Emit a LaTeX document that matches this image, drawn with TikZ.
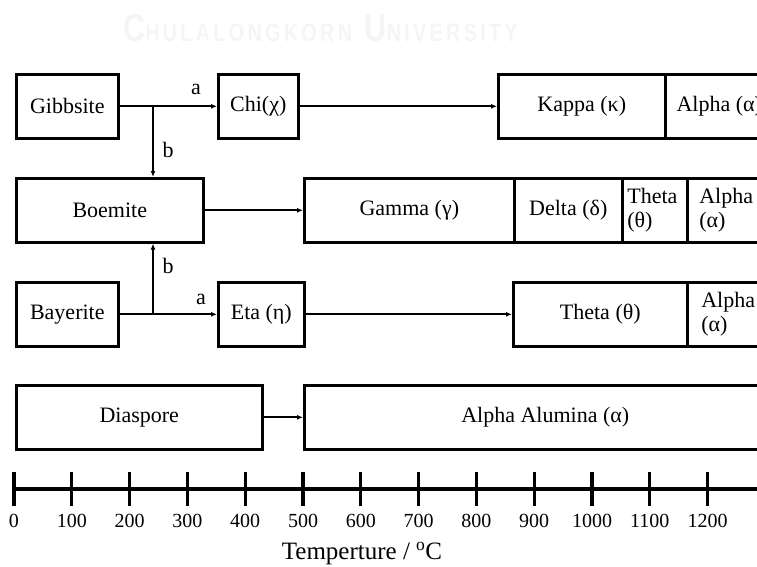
\documentclass[tikz,border=0pt]{standalone}
\usepackage{fontspec}
\setmainfont{Liberation Serif}
\newfontfamily\wmfont{Liberation Sans}
\usetikzlibrary{arrows.meta}
\begin{document}
\begin{tikzpicture}[x=1pt,y=-1pt,
  box/.style={draw=black, line width=2.6pt, minimum height=64pt, inner sep=0pt,
    anchor=north west, font=\fontsize{22}{24}\selectfont, text=black},
  lbox/.style={box, align=left},
  conn/.style={line width=1.8pt, -{Latex[length=6pt,width=5pt]}},
  lbl/.style={font=\fontsize{22}{24}\selectfont},
  tickln/.style={line width=3.2pt},
  num/.style={font=\fontsize{20}{22}\selectfont},
  wm/.style={text=black!4, font=\wmfont\bfseries, anchor=base west, inner sep=0pt}
]
\useasboundingbox (0,0) rectangle (757,567);
\clip (0,0) rectangle (757,567);

% faint watermark
\node[wm, xscale=0.9, yscale=1.15] (wmark) at (123,42) {{\fontsize{34}{34}\selectfont C}{\fontsize{22}{22}\selectfont H\,U\,L\,A\,L\,O\,N\,G\,K\,O\,R\,N}\hspace{14pt}{\fontsize{34}{34}\selectfont U}{\fontsize{22}{22}\selectfont N\,I\,V\,E\,R\,S\,I\,T\,Y}};

% row 1
\node[box, minimum width=102pt] (gib) at (15,73) {Gibbsite};
\node[box, minimum width=80pt] (chi) at (217,73) {Chi(χ)};
\node[box, minimum width=167pt] (kap) at (497,73) {Kappa (κ)};
\node[box, minimum width=108pt] (alp1) at (664,73) {Alpha (α)};

% row 2
\node[box, minimum width=187pt] (boe) at (15,177) {Boemite};
\node[box, minimum width=210pt] (gam) at (303,177) {Gamma (γ)};
\node[box, minimum width=108pt] (del) at (513,177) {Delta (δ)};
\node[lbox, minimum width=65pt, text width=55pt, inner xsep=5pt] (the2) at (621,177) {Theta\\(θ)};
\node[lbox, minimum width=114pt, text width=90pt, inner xsep=12pt] (alp2) at (686,177) {Alpha\\(α)};

% row 3
\node[box, minimum width=102pt] (bay) at (15,281) {Bayerite};
\node[box, minimum width=86pt] (eta) at (217,281) {Eta (η)};
\node[box, minimum width=174pt] (the3) at (512,281) {Theta (θ)};
\node[lbox, minimum width=114pt, text width=86pt, inner xsep=14pt] (alp3) at (686,281) {Alpha\\(α)};

% row 4
\node[box, minimum width=246pt] (dia) at (15,384) {Diaspore};
\node[box, minimum width=482pt] (aa) at (303,384) {Alpha Alumina (α)};

% connectors
\coordinate (j1) at (153,105);
\coordinate (j2) at (153,313);
\draw[conn] (gib.east) -- (chi.west);
\draw[conn] (j1) -- (j1 |- boe.north);
\draw[conn] (chi.east) -- (kap.west);
\draw[conn] (boe.east) -- (gam.west);
\draw[conn] (bay.east) -- (eta.west);
\draw[conn] (j2) -- (j2 |- boe.south);
\draw[conn] (eta.east) -- (the3.west);
\draw[conn] (dia.east) -- (aa.west);

% labels
\node[lbl] (la1) at (196,89) {a};
\node[lbl] (lb1) at (168,150) {b};
\node[lbl] (lb2) at (168,266) {b};
\node[lbl] (la2) at (201,299) {a};

% temperature axis
\coordinate (ax0) at (14,489);
\coordinate (ax1) at (770,489);
\draw[tickln] (ax0) -- (ax1);
\foreach \i in {0,...,12} {
  \pgfmathtruncatemacro{\val}{100*\i}
  \draw[tickln] (14+57.8*\i,472) -- (14+57.8*\i,506);
  \node[num] (n\i) at (14+57.8*\i,521) {\val};
}
\node[font=\fontsize{25}{26}\selectfont] (ttl) at (362,554) {Temperture / \textsuperscript{o}C};
\end{tikzpicture}
\end{document}
